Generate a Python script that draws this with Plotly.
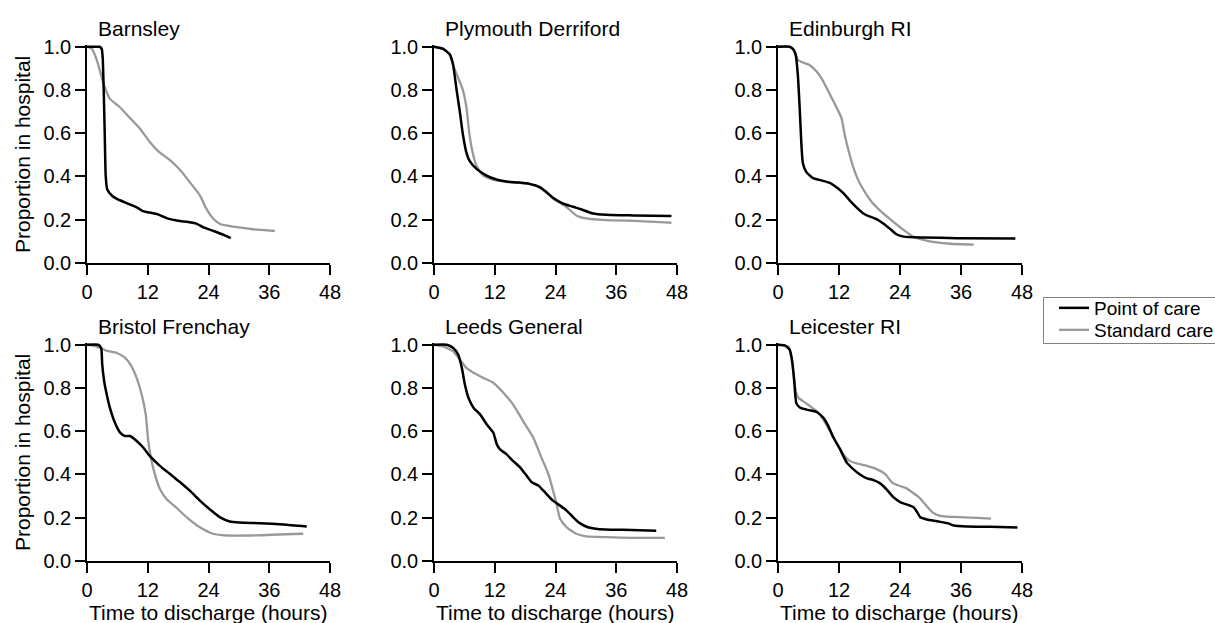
import plotly.graph_objects as go

W, H = 1215, 623

titles = ["Barnsley", "Plymouth Derriford", "Edinburgh RI",
          "Bristol Frenchay", "Leeds General", "Leicester RI"]
x_ticks = [0, 12, 24, 36, 48]
y_ticks = [0.0, 0.2, 0.4, 0.6, 0.8, 1.0]

# ---- Barnsley ----
barnsley_poc_x = [0, 1, 2, 2.5, 2.9, 3.1, 3.3, 3.5, 3.7, 4.0, 5, 6, 8, 10, 11, 12, 14, 15, 16, 18, 20, 21.5, 23, 25, 27, 28.4]
barnsley_poc_y = [1, 1, 1, 1, 0.99, 0.95, 0.8, 0.6, 0.4, 0.34, 0.31, 0.295, 0.275, 0.255, 0.24, 0.235, 0.225, 0.215, 0.205, 0.195, 0.19, 0.183, 0.165, 0.148, 0.13, 0.115]
barnsley_std_x = [0, 1, 1.9, 2.6, 3.4, 4.5, 6.5, 8.5, 10.5, 12.4, 14.4, 16.4, 18.4, 20.3, 22.3, 23.6, 24.9, 26.3, 28.9, 32.8, 37.1]
barnsley_std_y = [1, 0.99, 0.94, 0.885, 0.82, 0.76, 0.72, 0.67, 0.62, 0.56, 0.51, 0.476, 0.43, 0.374, 0.313, 0.25, 0.206, 0.18, 0.168, 0.156, 0.148]

# ---- Plymouth Derriford ----
plymouth_poc_x = [0, 1.8, 3.1, 3.75, 4.4, 5.1, 5.7, 6.4, 7.0, 8.4, 10.3, 12.3, 14.3, 16.9, 18.9, 20.9, 22.2, 23.5, 25.5, 27.5, 28.8, 31.4, 34.0, 39.3, 46.9]
plymouth_poc_y = [1, 0.99, 0.965, 0.92, 0.81, 0.70, 0.595, 0.51, 0.473, 0.435, 0.405, 0.386, 0.377, 0.372, 0.366, 0.351, 0.328, 0.302, 0.275, 0.26, 0.25, 0.229, 0.223, 0.22, 0.217]
plymouth_std_x = [0, 1.8, 3.1, 3.75, 4.7, 5.7, 6.4, 7.0, 7.7, 8.4, 9.7, 11.7, 14.3, 16.9, 18.9, 20.9, 22.2, 23.5, 26.1, 28.1, 30.1, 34.0, 40.6, 46.9]
plymouth_std_y = [1, 0.99, 0.965, 0.916, 0.86, 0.80, 0.72, 0.595, 0.504, 0.45, 0.405, 0.385, 0.375, 0.37, 0.364, 0.348, 0.325, 0.298, 0.26, 0.22, 0.206, 0.198, 0.194, 0.186]

# ---- Edinburgh RI ----
edinburgh_poc_x = [0, 2.3, 3.1, 3.5, 3.9, 4.3, 4.6, 4.9, 5.6, 6.9, 8.5, 10.2, 11.5, 12.8, 14.1, 15.5, 16.8, 18.1, 19.4, 20.7, 22.0, 23.3, 24.7, 28.6, 35.2, 46.7]
edinburgh_poc_y = [1, 1, 0.985, 0.96, 0.87, 0.7, 0.55, 0.46, 0.42, 0.392, 0.382, 0.37, 0.35, 0.324, 0.29, 0.256, 0.229, 0.214, 0.203, 0.183, 0.159, 0.133, 0.122, 0.118, 0.115, 0.113]
edinburgh_std_x = [0, 2.0, 3.0, 3.9, 4.9, 6.2, 7.6, 8.9, 10.2, 11.5, 12.5, 13.1, 13.8, 14.8, 15.8, 17.1, 18.7, 20.7, 22.7, 24.7, 26.6, 28.6, 31.2, 33.9, 38.5]
edinburgh_std_y = [1, 1, 0.99, 0.94, 0.927, 0.916, 0.885, 0.84, 0.78, 0.72, 0.67, 0.595, 0.527, 0.443, 0.382, 0.328, 0.275, 0.229, 0.19, 0.153, 0.122, 0.107, 0.095, 0.089, 0.085]

# ---- Bristol Frenchay ----
bristol_poc_x = [0, 2.2, 2.8, 3.0, 3.4, 3.9, 4.5, 5.5, 6.5, 7.5, 8.5, 9.8, 11.1, 12.4, 14.4, 16.4, 18.4, 20.3, 22.3, 24.3, 26.3, 28.2, 30.2, 34.2, 38.8, 43.4]
bristol_poc_y = [1, 1, 0.985, 0.91, 0.83, 0.77, 0.71, 0.64, 0.595, 0.578, 0.578, 0.555, 0.525, 0.486, 0.44, 0.402, 0.364, 0.325, 0.279, 0.238, 0.202, 0.183, 0.178, 0.175, 0.169, 0.16]
bristol_std_x = [0, 1.5, 2.6, 3.9, 5.9, 7.5, 8.8, 9.8, 10.8, 11.6, 12.1, 12.6, 13.4, 14.4, 15.7, 17.7, 19.7, 22.3, 24.9, 27.6, 32.2, 42.7]
bristol_std_y = [1, 0.995, 0.985, 0.972, 0.962, 0.94, 0.9, 0.847, 0.77, 0.678, 0.555, 0.479, 0.402, 0.333, 0.287, 0.245, 0.202, 0.156, 0.126, 0.118, 0.118, 0.126]

# ---- Leeds General ----
leeds_poc_x = [0, 2.5, 3.8, 4.8, 5.5, 6.1, 6.8, 7.8, 9.1, 10.4, 11.7, 12.4, 13.0, 14.3, 15.6, 17.0, 18.3, 19.3, 20.6, 21.9, 23.5, 24.9, 26.2, 27.5, 28.8, 30.4, 32.7, 37.3, 43.9]
leeds_poc_y = [1, 1, 0.985, 0.954, 0.893, 0.816, 0.755, 0.709, 0.678, 0.632, 0.594, 0.54, 0.517, 0.494, 0.463, 0.433, 0.394, 0.364, 0.349, 0.318, 0.279, 0.256, 0.233, 0.202, 0.175, 0.156, 0.147, 0.144, 0.14]
leeds_std_x = [0, 1.8, 3.8, 5.1, 6.4, 7.8, 9.7, 11.7, 13.7, 15.6, 17.6, 19.6, 21.2, 22.6, 23.7, 24.2, 24.9, 26.2, 28.1, 30.1, 34.1, 39.3, 45.6]
leeds_std_y = [1, 0.992, 0.969, 0.931, 0.893, 0.87, 0.847, 0.824, 0.778, 0.724, 0.647, 0.571, 0.479, 0.402, 0.31, 0.264, 0.195, 0.156, 0.126, 0.114, 0.11, 0.107, 0.107]

# ---- Leicester RI ----
leicester_poc_x = [0, 1.3, 2.3, 2.8, 3.2, 3.6, 4.3, 5.6, 7.6, 8.9, 9.9, 10.9, 12.2, 13.5, 14.8, 16.2, 17.5, 18.8, 20.1, 21.4, 22.7, 24.1, 25.4, 26.7, 27.4, 28.0, 29.3, 31.3, 33.3, 34.6, 37.2, 41.8, 47.1]
leicester_poc_y = [1, 0.997, 0.977, 0.923, 0.83, 0.73, 0.71, 0.70, 0.689, 0.663, 0.624, 0.571, 0.517, 0.456, 0.425, 0.399, 0.382, 0.374, 0.359, 0.33, 0.295, 0.271, 0.261, 0.248, 0.225, 0.202, 0.192, 0.184, 0.175, 0.164, 0.16, 0.158, 0.155]
leicester_std_x = [0, 2.0, 2.5, 3.0, 3.5, 4.0, 4.9, 6.3, 7.6, 8.9, 10.2, 11.5, 12.8, 14.1, 15.4, 17.5, 19.4, 21.1, 22.4, 23.7, 25.1, 26.4, 27.7, 29.0, 30.4, 31.7, 33.3, 36.6, 39.2, 41.9]
leicester_std_y = [1, 0.992, 0.954, 0.877, 0.785, 0.755, 0.739, 0.716, 0.693, 0.655, 0.601, 0.548, 0.494, 0.463, 0.452, 0.44, 0.425, 0.402, 0.364, 0.349, 0.338, 0.318, 0.295, 0.261, 0.225, 0.21, 0.205, 0.202, 0.199, 0.196]

poc_series = [(barnsley_poc_x, barnsley_poc_y), (plymouth_poc_x, plymouth_poc_y),
              (edinburgh_poc_x, edinburgh_poc_y), (bristol_poc_x, bristol_poc_y),
              (leeds_poc_x, leeds_poc_y), (leicester_poc_x, leicester_poc_y)]
std_series = [(barnsley_std_x, barnsley_std_y), (plymouth_std_x, plymouth_std_y),
              (edinburgh_std_x, edinburgh_std_y), (bristol_std_x, bristol_std_y),
              (leeds_std_x, leeds_std_y), (leicester_std_x, leicester_std_y)]

# pixel layout of the panels
col_px = [(87, 330), (434, 677), (778, 1022)]
row_px = [(45, 263), (343, 561)]

FONT = "Liberation Sans, Arial, Helvetica, sans-serif"
BLACK = "#000000"
GRAY = "#999999"

fig = go.Figure()
layout = dict(
    width=W, height=H,
    margin=dict(l=0, r=0, t=0, b=0, pad=0, autoexpand=False),
    paper_bgcolor="white", plot_bgcolor="white",
    font=dict(family=FONT, size=20, color="black"),
    showlegend=True,
    legend=dict(x=1054 / W, y=1 - 308 / H, xanchor="left", yanchor="middle",
                borderwidth=0, bgcolor="rgba(0,0,0,0)",
                font=dict(size=19, family=FONT, color="black")),
    legend2=dict(x=1054 / W, y=1 - 330 / H, xanchor="left", yanchor="middle",
                 borderwidth=0, bgcolor="rgba(0,0,0,0)",
                 font=dict(size=19, family=FONT, color="black")),
    shapes=[dict(type="rect", xref="paper", yref="paper",
                 x0=1043.5 / W, x1=1240 / W, y0=1 - 343.5 / H, y1=1 - 297.5 / H,
                 line=dict(color="#808080", width=1), fillcolor="rgba(0,0,0,0)")],
    annotations=[],
)

for i in range(6):
    r, c = divmod(i, 3)
    n = i + 1
    xa = "xaxis" if n == 1 else f"xaxis{n}"
    ya = "yaxis" if n == 1 else f"yaxis{n}"
    xr = "x" if n == 1 else f"x{n}"
    yr = "y" if n == 1 else f"y{n}"
    x0, x1 = col_px[c]
    y0, y1 = row_px[r]
    common = dict(showline=True, linecolor="black", linewidth=1.5,
                  ticks="outside", ticklen=10, tickwidth=1.5, tickcolor="black",
                  showgrid=False, zeroline=False,
                  tickfont=dict(size=20, family=FONT, color="black"))
    layout[xa] = dict(domain=[x0 / W, x1 / W], anchor=yr, range=[0, 48],
                      tickvals=x_ticks, ticktext=[str(v) for v in x_ticks], **common)
    layout[ya] = dict(domain=[1 - y1 / H, 1 - y0 / H], anchor=xr, range=[0, 1.008],
                      tickvals=y_ticks, ticktext=[f"{v:.1f}" for v in y_ticks], **common)

    sx, sy = std_series[i]
    px_, py_ = poc_series[i]
    fig.add_trace(go.Scatter(x=sx, y=sy, mode="lines", xaxis=xr, yaxis=yr,
                             line=dict(color=GRAY, width=2.3, shape="spline", smoothing=0.5),
                             name="Standard care", legend="legend2",
                             showlegend=(i == 0)))
    fig.add_trace(go.Scatter(x=px_, y=py_, mode="lines", xaxis=xr, yaxis=yr,
                             line=dict(color=BLACK, width=2.5, shape="spline", smoothing=0.5),
                             name="Point of care", legend="legend",
                             showlegend=(i == 0)))

    # panel title
    layout["annotations"].append(dict(
        text=titles[i], xref="paper", yref="paper",
        x=(x0 + 9) / W, y=1 - (y0 - 17) / H, xanchor="left", yanchor="middle",
        showarrow=False, font=dict(size=21, family=FONT, color="black")))
    # y axis title (left column)
    if c == 0:
        layout["annotations"].append(dict(
            text="Proportion in hospital", xref="paper", yref="paper",
            x=22 / W, y=1 - ((y0 + y1) / 2 + 1) / H, xanchor="center", yanchor="middle",
            textangle=-90, showarrow=False,
            font=dict(size=21, family=FONT, color="black")))
    # x axis title (bottom row)
    if r == 1:
        layout["annotations"].append(dict(
            text="Time to discharge (hours)", xref="paper", yref="paper",
            x=((x0 + x1) / 2 - 1) / W, y=1 - 612 / H, xanchor="center", yanchor="middle",
            showarrow=False, font=dict(size=21, family=FONT, color="black")))

fig.update_layout(**layout)
fig.write_html("out.html")
